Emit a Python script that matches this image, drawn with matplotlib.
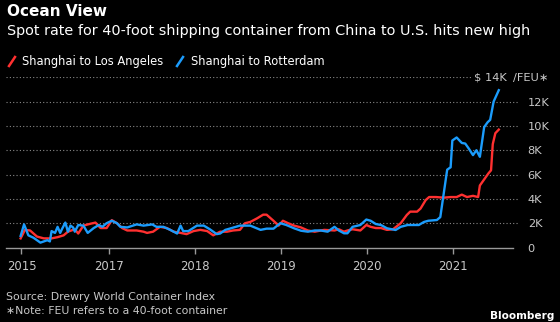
import matplotlib
matplotlib.use("Agg")
import matplotlib.pyplot as plt
from matplotlib.lines import Line2D

# ---- data (x in decimal years, y in $ thousands / FEU) ----
la_x = [2015.97, 2016.02, 2016.08, 2016.16, 2016.24, 2016.33, 2016.40, 2016.47, 2016.52, 2016.60,
        2016.64, 2016.70, 2016.78, 2016.84, 2016.90, 2016.97, 2017.03, 2017.09, 2017.15, 2017.21,
        2017.32, 2017.40, 2017.44, 2017.51, 2017.59, 2017.67, 2017.75, 2017.83, 2017.90, 2017.98,
        2018.06, 2018.14, 2018.21, 2018.29, 2018.37, 2018.44, 2018.52, 2018.58, 2018.64, 2018.72,
        2018.79, 2018.83, 2018.91, 2018.97, 2019.02, 2019.08, 2019.15, 2019.23, 2019.31, 2019.39,
        2019.50, 2019.62, 2019.67, 2019.73, 2019.77, 2019.83, 2019.92, 2019.99, 2020.04, 2020.10,
        2020.16, 2020.23, 2020.30, 2020.39, 2020.46, 2020.50, 2020.58, 2020.62, 2020.68, 2020.72,
        2020.80, 2020.89, 2020.97, 2021.04, 2021.10, 2021.16, 2021.23, 2021.29, 2021.31, 2021.37,
        2021.41, 2021.44, 2021.46, 2021.49, 2021.53]
la_y = [0.75, 1.45, 1.40, 0.90, 0.75, 0.75, 0.85, 1.00, 1.30, 1.50,
        1.15, 1.80, 1.95, 2.05, 1.60, 1.60, 2.25, 2.00, 1.60, 1.40,
        1.40, 1.30, 1.20, 1.30, 1.70, 1.60, 1.30, 1.20, 1.10, 1.35,
        1.45, 1.35, 1.00, 1.30, 1.30, 1.40, 1.45, 2.00, 2.10, 2.40,
        2.70, 2.70, 2.20, 1.80, 2.20, 2.00, 1.80, 1.65, 1.40, 1.30,
        1.45, 1.40, 1.50, 1.30, 1.40, 1.50, 1.40, 1.85, 1.70, 1.60,
        1.60, 1.45, 1.50, 2.00, 2.67, 2.95, 2.95, 3.20, 3.90, 4.15,
        4.15, 4.10, 4.15, 4.15, 4.35, 4.15, 4.25, 4.15, 5.10, 5.70,
        6.10, 6.35, 8.50, 9.40, 9.70]

rt_x = [2015.97, 2016.01, 2016.06, 2016.12, 2016.20, 2016.24, 2016.28, 2016.31, 2016.33, 2016.37,
        2016.40, 2016.43, 2016.45, 2016.49, 2016.52, 2016.55, 2016.58, 2016.60, 2016.64, 2016.70,
        2016.75, 2016.82, 2016.88, 2016.92, 2016.97, 2017.03, 2017.09, 2017.13, 2017.21, 2017.32,
        2017.40, 2017.50, 2017.55, 2017.63, 2017.71, 2017.79, 2017.83, 2017.86, 2017.92, 2018.02,
        2018.10, 2018.17, 2018.25, 2018.29, 2018.35, 2018.40, 2018.52, 2018.64, 2018.76, 2018.83,
        2018.91, 2018.99, 2019.06, 2019.15, 2019.23, 2019.31, 2019.39, 2019.46, 2019.54, 2019.62,
        2019.67, 2019.73, 2019.77, 2019.83, 2019.92, 2019.99, 2020.04, 2020.10, 2020.16, 2020.23,
        2020.33, 2020.39, 2020.47, 2020.54, 2020.60, 2020.66, 2020.71, 2020.81, 2020.85, 2020.89,
        2020.93, 2020.97, 2020.99, 2021.04, 2021.10, 2021.14, 2021.18, 2021.23, 2021.27, 2021.31,
        2021.36, 2021.40, 2021.43, 2021.47, 2021.53]
rt_y = [0.95, 1.90, 1.00, 0.80, 0.40, 0.50, 0.60, 0.50, 1.35, 1.20,
        1.70, 1.20, 1.50, 2.05, 1.30, 1.80, 1.65, 1.30, 1.85, 1.80,
        1.20, 1.60, 1.85, 1.70, 2.00, 2.20, 2.00, 1.70, 1.65, 1.90,
        1.80, 1.90, 1.70, 1.70, 1.45, 1.15, 1.80, 1.35, 1.35, 1.80,
        1.80, 1.50, 1.10, 1.15, 1.45, 1.55, 1.80, 1.80, 1.45, 1.55,
        1.55, 2.00, 1.85, 1.58, 1.38, 1.30, 1.40, 1.40, 1.30, 1.70,
        1.40, 1.17, 1.17, 1.70, 1.85, 2.30, 2.20, 1.93, 1.85, 1.58,
        1.44, 1.70, 1.85, 1.85, 1.85, 2.10, 2.20, 2.26, 2.50, 4.45,
        6.40, 6.60, 8.80, 9.05, 8.60, 8.55, 8.15, 7.60, 8.00, 7.46,
        9.90, 10.30, 10.50, 12.00, 12.94]

year_ticks = [2015.98, 2017, 2018, 2019, 2020, 2021]
year_labels = ["2015", "2017", "2018", "2019", "2020", "2021"]
y_ticks = [0, 2, 4, 6, 8, 10, 12]
y_labels = ["0", "2K", "4K", "6K", "8K", "10K", "12K"]

RED = "#ff3030"
BLUE = "#1b9cfc"
GREY = "#c8c8c8"

W, H = 560, 322
fig = plt.figure(figsize=(W / 100, H / 100), dpi=100, facecolor="black")

def fx(px): return px / W
def fy(py): return 1 - py / H

# axes placed in pixel terms
left, right, top, bottom = 6, 518, 77.3, 247.5
ax = fig.add_axes([fx(left), fy(bottom), fx(right - left), (bottom - top) / H])
ax.set_facecolor("black")
ax.set_xlim(2015.80, 2015.80 + (right - left) / 86.0)
ax.set_ylim(0, 14)
for s in ax.spines.values():
    s.set_visible(False)

# dotted gridlines, top one stops short of the unit label
for g in [2, 4, 6, 8, 10, 12]:
    ax.axhline(g, color="#888888", lw=0.8, ls=(0, (1, 2)), zorder=1)
ax.axhline(14, xmax=(472 - left) / (right - left), color="#888888", lw=0.8, ls=(0, (1, 2)), zorder=1)
ax.axhline(0, xmax=(513 - left) / (right - left), color="#999999", lw=1.0, zorder=1, clip_on=False)

ax.plot(la_x, la_y, color=RED, lw=1.7, zorder=3, solid_joinstyle="round")
ax.plot(rt_x, rt_y, color=BLUE, lw=1.7, zorder=4, solid_joinstyle="round")

ax.set_xticks(year_ticks)
ax.set_xticklabels(year_labels)
ax.tick_params(axis="x", colors="#999999", labelcolor=GREY, length=4, width=1,
               direction="out", pad=5, labelsize=8.4)
ax.yaxis.tick_right()
ax.set_yticks(y_ticks)
ax.set_yticklabels(y_labels)
ax.tick_params(axis="y", length=0, pad=7, labelcolor=GREY, labelsize=8.2)
for t in ax.get_yticklabels():
    t.set_horizontalalignment("left")

# unit label at the 14K line
fig.text(fx(507), fy(77.5), "$ 14K", color=GREY, fontsize=8.2, ha="right", va="center")
fig.text(fx(513), fy(77.5), "/FEU\u2217", color=GREY, fontsize=8.2, ha="left", va="center")

# titles
fig.text(fx(7), fy(12), "Ocean View", color="white", fontsize=11, fontweight="bold",
         ha="left", va="center")
fig.text(fx(7), fy(31.5), "Spot rate for 40-foot shipping container from China to U.S. hits new high",
         color="white", fontsize=10.4, ha="left", va="center")

# legend
fig.lines.append(Line2D([fx(9), fx(15)], [fy(66), fy(57)], color=RED, lw=1.8,
                        transform=fig.transFigure))
fig.text(fx(22), fy(61), "Shanghai to Los Angeles", color="white", fontsize=8.3, ha="left", va="center")
fig.lines.append(Line2D([fx(177), fx(183)], [fy(66), fy(57)], color=BLUE, lw=1.8,
                        transform=fig.transFigure))
fig.text(fx(191), fy(61), "Shanghai to Rotterdam", color="white", fontsize=8.3, ha="left", va="center")

# footer
fig.text(fx(6), fy(297), "Source: Drewry World Container Index", color=GREY, fontsize=7.8,
         ha="left", va="center")
fig.text(fx(6), fy(311), "\u2217Note: FEU refers to a 40-foot container", color=GREY, fontsize=7.8,
         ha="left", va="center")
fig.text(fx(554), fy(316), "Bloomberg", color="white", fontsize=7.6, fontweight="bold",
         ha="right", va="center")

fig.savefig("out.png", dpi=100, facecolor="black")
